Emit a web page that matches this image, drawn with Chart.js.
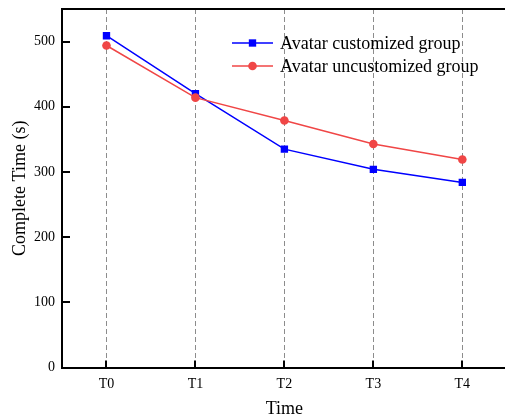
<!DOCTYPE html>
<html>
<head>
<meta charset="utf-8">
<script src="https://cdn.jsdelivr.net/npm/chart.js@4/dist/chart.umd.min.js"></script>
<style>
html,body{margin:0;padding:0;overflow:hidden;background:#fff;}
#wrap{position:relative;width:512px;height:420px;}
</style>
</head>
<body>
<div id="wrap"><canvas id="c"></canvas></div>
<script>
const categories = ["T0", "T1", "T2", "T3", "T4"];
const customized = [509, 420, 335, 304, 284];
const uncustomized = [494, 414, 379, 343, 319];
const yTicks = [0, 100, 200, 300, 400, 500];
const seriesNames = ["Avatar customized group", "Avatar uncustomized group"];

const FONT = "'Liberation Serif', 'Times New Roman', serif";

const innerTicks = {
  id: 'innerTicks',
  afterDatasetsDraw(chart) {
    const ctx = chart.ctx;
    const x = chart.scales.x, y = chart.scales.y;
    const a = chart.chartArea;
    ctx.save();
    ctx.strokeStyle = '#000';
    ctx.lineWidth = 2;
    x.ticks.forEach((t, i) => {
      const px = Math.round(x.getPixelForTick(i));
      ctx.beginPath(); ctx.moveTo(px, a.bottom); ctx.lineTo(px, a.bottom - 7); ctx.stroke();
    });
    y.ticks.forEach((t, i) => {
      const py = Math.round(y.getPixelForValue(t.value));
      ctx.beginPath(); ctx.moveTo(a.left, py); ctx.lineTo(a.left + 8, py); ctx.stroke();
    });
    // top border
    ctx.lineWidth = 2;
    ctx.beginPath(); ctx.moveTo(a.left - 1, a.top); ctx.lineTo(a.right + 1, a.top); ctx.stroke();
    // legend
    const lx = 232, ly0 = 43, dy = 23;
    chart.data.datasets.forEach((ds, i) => {
      const yy = ly0 + i * dy;
      ctx.strokeStyle = ds.borderColor;
      ctx.lineWidth = ds.borderWidth;
      ctx.beginPath(); ctx.moveTo(lx, yy); ctx.lineTo(lx + 41, yy); ctx.stroke();
      ctx.fillStyle = ds.pointBackgroundColor;
      ctx.beginPath();
      if (ds.pointStyle === 'rect') {
        const s = Math.SQRT1_2 * ds.pointRadius;
        ctx.rect(lx + 20.5 - s, yy - s, 2 * s, 2 * s);
      } else {
        ctx.arc(lx + 20.5, yy, ds.pointRadius, 0, Math.PI * 2);
      }
      ctx.fill();
      ctx.fillStyle = '#000';
      ctx.font = "18px " + FONT;
      ctx.textBaseline = 'middle';
      ctx.textAlign = 'left';
      ctx.fillText(ds.label, lx + 48, yy + 1);
    });
    ctx.restore();
  }
};

new Chart(document.getElementById('c'), {
  type: 'line',
  data: {
    labels: categories,
    datasets: [
      {
        label: seriesNames[0], data: customized, order: 1,
        borderColor: '#0000ff', backgroundColor: '#0000ff',
        pointBackgroundColor: '#0000ff', pointBorderWidth: 0,
        borderWidth: 1.5, pointStyle: 'rect', pointRadius: 5.2, tension: 0
      },
      {
        label: seriesNames[1], data: uncustomized, order: 0,
        borderColor: '#f04646', backgroundColor: '#f04646',
        pointBackgroundColor: '#f04646', pointBorderWidth: 0,
        borderWidth: 1.5, pointStyle: 'circle', pointRadius: 4.3, tension: 0
      }
    ]
  },
  options: {
    responsive: true,
    maintainAspectRatio: false,
    animation: false,
    devicePixelRatio: 1,
    layout: { padding: { top: 9, right: 5, left: 0, bottom: 0 } },
    plugins: { legend: { display: false }, tooltip: { enabled: false } },
    scales: {
      x: {
        type: 'category',
        offset: true,
        afterFit(s) { s.height = 52.5; s.paddingLeft = 0; s.paddingRight = 0; },
        grid: {
          display: true, drawOnChartArea: true, drawTicks: false,
          color: '#8c8c8c', lineWidth: 1
        },
        border: { display: true, color: '#000', width: 2, dash: [5, 3] },
        ticks: { color: '#000', font: { family: FONT, size: 14 }, padding: 8 },
        title: { display: true, text: 'Time', color: '#000', font: { family: FONT, size: 18 }, padding: { top: 0, bottom: 0 } }
      },
      y: {
        min: 0, max: 550,
        afterFit(s) { s.width = 62; s.paddingTop = 0; s.paddingBottom = 0; },
        afterBuildTicks(s) { s.ticks = yTicks.map(v => ({ value: v })); },
        grid: { display: false, drawTicks: false },
        border: { display: true, color: '#000', width: 2 },
        ticks: { color: '#000', font: { family: FONT, size: 14 }, padding: 7 },
        title: { display: true, text: 'Complete Time (s)', color: '#000', font: { family: FONT, size: 18 }, padding: { top: 9, bottom: 0 } }
      }
    }
  },
  plugins: [innerTicks]
});
</script>
</body>
</html>
